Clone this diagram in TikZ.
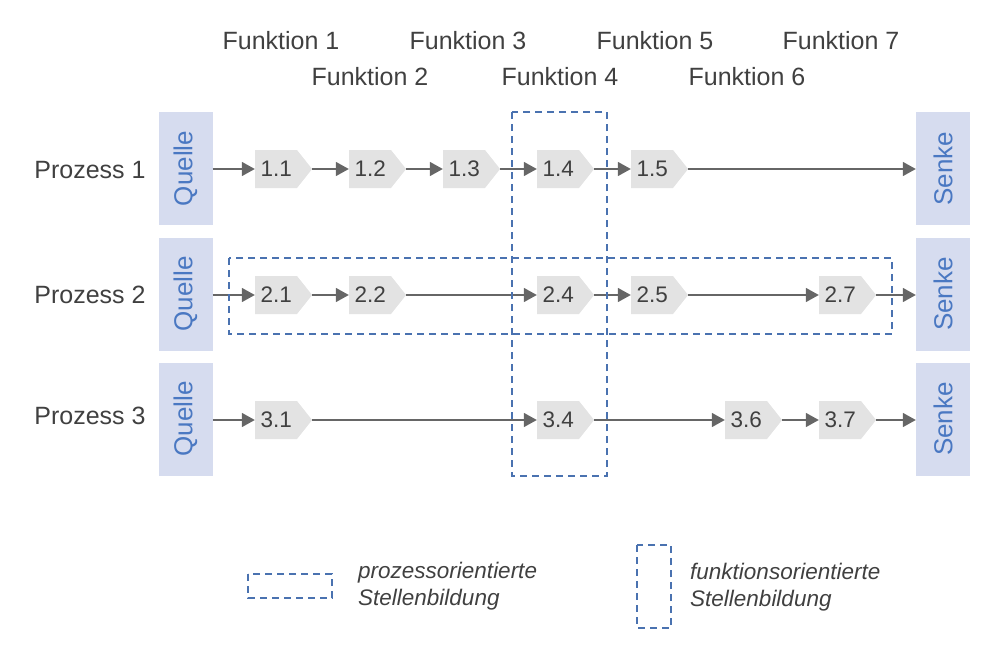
\documentclass[tikz,border=0pt]{standalone}
\usepackage{fontspec}
\setmainfont{Liberation Sans}
\usetikzlibrary{shapes.symbols,arrows.meta}
\definecolor{txt}{HTML}{404040}
\definecolor{boxfill}{HTML}{D6DCEF}
\definecolor{boxtxt}{HTML}{4A78C2}
\definecolor{stepfill}{HTML}{E3E3E3}
\definecolor{linec}{HTML}{666666}
\definecolor{dashc}{HTML}{4A72B0}
\tikzset{
  endbox/.style={rectangle, fill=boxfill, minimum width=54pt, minimum height=113pt, inner sep=0pt, text=boxtxt, font=\fontsize{26}{26}\selectfont},
  stepnode/.style={signal, signal to=east, signal pointer angle=103, fill=stepfill, text=txt, font=\fontsize{22.5}{22.5}\selectfont, text width=31pt, align=center, inner xsep=5.5pt, minimum height=38pt, inner ysep=0pt},
  flow/.style={draw=linec, line width=1.6pt, -{Triangle[length=13pt,width=14pt]}},
  lab/.style={text=txt, font=\fontsize{25}{25}\selectfont, inner sep=0pt},
  leg/.style={text=txt, font=\fontsize{22.5}{27}\selectfont\itshape, align=left, anchor=west, inner sep=0pt},
  dbox/.style={draw=dashc, line width=2pt, dash pattern=on 7pt off 5pt}
}
\begin{document}
\begin{tikzpicture}[x=1pt,y=-1pt]
\useasboundingbox (0,0) rectangle (1000,656);
% function labels
\node[lab] (f1) at (281,41) {Funktion 1};
\node[lab] (f2) at (370,77) {Funktion 2};
\node[lab] (f3) at (468,41) {Funktion 3};
\node[lab] (f4) at (560,77) {Funktion 4};
\node[lab] (f5) at (655,41) {Funktion 5};
\node[lab] (f6) at (747,77) {Funktion 6};
\node[lab] (f7) at (841,41) {Funktion 7};
% process labels
\node[lab] (p1) at (90,170) {Prozess 1};
\node[lab] (p2) at (90,295) {Prozess 2};
\node[lab] (p3) at (90,416) {Prozess 3};
% sources and sinks
\node[endbox] (q1) at (185.5,168.5) {\rotatebox{90}{Quelle}};
\node[endbox] (q2) at (185.5,294) {\rotatebox{90}{Quelle}};
\node[endbox] (q3) at (185.5,419) {\rotatebox{90}{Quelle}};
\node[endbox] (s1) at (943,168.5) {\rotatebox{90}{Senke}};
\node[endbox] (s2) at (943,294) {\rotatebox{90}{Senke}};
\node[endbox] (s3) at (943,419) {\rotatebox{90}{Senke}};
% steps
\node[stepnode] (n11) at (276,169) {1.1};
\node[stepnode] (n12) at (370,169) {1.2};
\node[stepnode] (n13) at (464,169) {1.3};
\node[stepnode] (n14) at (558,169) {1.4};
\node[stepnode] (n15) at (652,169) {1.5};
\node[stepnode] (n21) at (276,295) {2.1};
\node[stepnode] (n22) at (370,295) {2.2};
\node[stepnode] (n24) at (558,295) {2.4};
\node[stepnode] (n25) at (652,295) {2.5};
\node[stepnode] (n27) at (840,295) {2.7};
\node[stepnode] (n31) at (276,420) {3.1};
\node[stepnode] (n34) at (558,420) {3.4};
\node[stepnode] (n36) at (746,420) {3.6};
\node[stepnode] (n37) at (840,420) {3.7};
% flows
\draw[flow] (q1.east |- n11) -- (n11.west);
\draw[flow] (n11.east) -- (n12.west);
\draw[flow] (n12.east) -- (n13.west);
\draw[flow] (n13.east) -- (n14.west);
\draw[flow] (n14.east) -- (n15.west);
\draw[flow] (n15.east) -- (s1.west |- n15);
\draw[flow] (q2.east |- n21) -- (n21.west);
\draw[flow] (n21.east) -- (n22.west);
\draw[flow] (n22.east) -- (n24.west);
\draw[flow] (n24.east) -- (n25.west);
\draw[flow] (n25.east) -- (n27.west);
\draw[flow] (n27.east) -- (s2.west |- n27);
\draw[flow] (q3.east |- n31) -- (n31.west);
\draw[flow] (n31.east) -- (n34.west);
\draw[flow] (n34.east) -- (n36.west);
\draw[flow] (n36.east) -- (n37.west);
\draw[flow] (n37.east) -- (s3.west |- n37);
% dashed groupings
\draw[dbox] (229,258) rectangle (892,334);
\draw[dbox] (512,112) rectangle (607,476);
% legend
\draw[dbox] (248,574) rectangle (332,598);
\node[leg] (l1) at (358,586) {prozessorientierte\\Stellenbildung};
\draw[dbox] (637,545) rectangle (671,628);
\node[leg] (l2) at (690,587) {funktionsorientierte\\Stellenbildung};
\end{tikzpicture}
\end{document}
